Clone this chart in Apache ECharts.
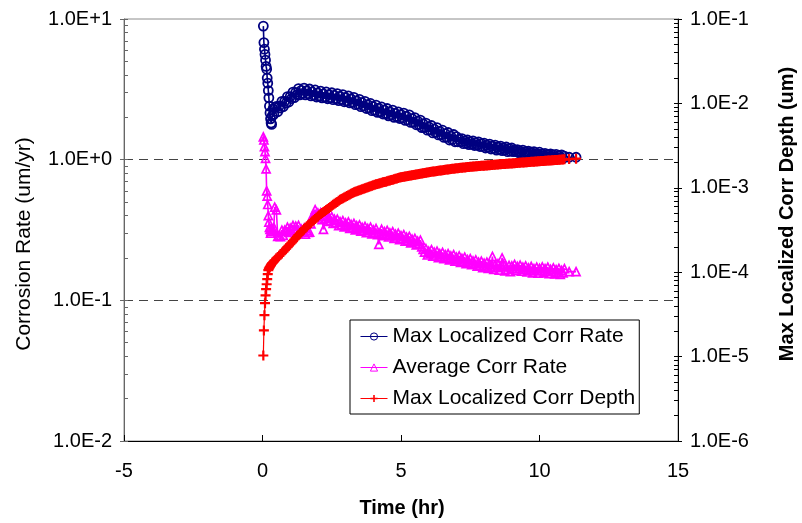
<!DOCTYPE html>
<html>
<head>
<meta charset="utf-8">
<script src="https://cdn.jsdelivr.net/npm/echarts@6/dist/echarts.min.js"></script>
<style>
  html, body { margin: 0; padding: 0; background: #fff; }
  #chart { width: 802px; height: 523px; }
</style>
</head>
<body>
<div id="chart"></div>
<script>
// Elapsed test time (hr)
const hours = [
  0.03, 0.05, 0.07, 0.09, 0.11, 0.13, 0.15, 0.17, 0.19, 0.21,
  0.23, 0.25, 0.27, 0.29, 0.31, 0.33, 0.35, 0.38, 0.41, 0.44,
  0.5, 0.55, 0.6, 0.65, 0.7, 0.75, 0.8, 0.85, 0.9, 0.95,
  1.0, 1.05, 1.1, 1.15, 1.2, 1.25, 1.3, 1.35, 1.4, 1.45, 1.5, 1.55, 1.6, 1.65, 1.7, 1.75, 1.8, 1.85, 1.9, 1.95,
  2.0, 2.05, 2.1, 2.15, 2.2, 2.25, 2.3, 2.35, 2.4, 2.45, 2.5, 2.55, 2.6, 2.65, 2.7, 2.75, 2.8, 2.85, 2.9, 2.95,
  3.0, 3.05, 3.1, 3.15, 3.2, 3.25, 3.3, 3.35, 3.4, 3.45, 3.5, 3.55, 3.6, 3.65, 3.7, 3.75, 3.8, 3.85, 3.9, 3.95,
  4.0, 4.05, 4.1, 4.15, 4.2, 4.25, 4.3, 4.35, 4.4, 4.45, 4.5, 4.55, 4.6, 4.65, 4.7, 4.75, 4.8, 4.85, 4.9, 4.95,
  5.0, 5.05, 5.1, 5.15, 5.2, 5.25, 5.3, 5.35, 5.4, 5.45, 5.5, 5.55, 5.6, 5.65, 5.7, 5.75, 5.8, 5.85, 5.9, 5.95,
  6.0, 6.05, 6.1, 6.15, 6.2, 6.25, 6.3, 6.35, 6.4, 6.45, 6.5, 6.55, 6.6, 6.65, 6.7, 6.75, 6.8, 6.85, 6.9, 6.95,
  7.0, 7.05, 7.1, 7.15, 7.2, 7.25, 7.3, 7.35, 7.4, 7.45, 7.5, 7.55, 7.6, 7.65, 7.7, 7.75, 7.8, 7.85, 7.9, 7.95,
  8.0, 8.05, 8.1, 8.15, 8.2, 8.25, 8.3, 8.35, 8.4, 8.45, 8.5, 8.55, 8.6, 8.65, 8.7, 8.75, 8.8, 8.85, 8.9, 8.95,
  9.0, 9.05, 9.1, 9.15, 9.2, 9.25, 9.3, 9.35, 9.4, 9.45, 9.5, 9.55, 9.6, 9.65, 9.7, 9.75, 9.8, 9.85, 9.9, 9.95,
  10.0, 10.05, 10.1, 10.15, 10.2, 10.25, 10.3, 10.35, 10.4, 10.45, 10.5, 10.55, 10.6, 10.65, 10.7, 10.75, 10.8, 10.85, 10.9,
  11.07, 11.32
];

// Max localized corrosion rate (um/yr), left axis
const maxLocalRate = [
  8.9, 6.8, 6.1, 5.6, 5.1, 4.6, 4.4, 3.8, 3.5, 3.1,
  2.75, 2.4, 2.15, 1.95, 1.82, 1.78, 2.05, 2.3, 2.1, 2.35,
  2.39, 2.19, 2.40, 2.33, 2.60, 2.38, 2.60, 2.52, 2.81, 2.57,
  2.81, 2.72, 3.02, 2.76, 3.01, 2.90, 3.20, 2.89, 3.11, 2.96, 3.23, 2.89, 3.09, 2.93, 3.18, 2.84, 3.03, 2.87, 3.13, 2.79,
  2.98, 2.82, 3.07, 2.75, 2.94, 2.78, 3.03, 2.71, 2.90, 2.75, 2.99, 2.67, 2.86, 2.71, 2.95, 2.63, 2.82, 2.67, 2.90, 2.58,
  2.76, 2.61, 2.84, 2.53, 2.70, 2.55, 2.77, 2.46, 2.62, 2.47, 2.68, 2.38, 2.54, 2.40, 2.60, 2.31, 2.46, 2.32, 2.51, 2.23,
  2.38, 2.24, 2.44, 2.17, 2.32, 2.18, 2.37, 2.11, 2.25, 2.12, 2.31, 2.05, 2.19, 2.07, 2.25, 2.00, 2.13, 2.02, 2.19, 1.96,
  2.09, 1.97, 2.14, 1.90, 2.03, 1.91, 2.08, 1.84, 1.96, 1.84, 1.99, 1.77, 1.88, 1.77, 1.91, 1.69, 1.80, 1.69, 1.82, 1.62,
  1.71, 1.62, 1.75, 1.55, 1.65, 1.56, 1.69, 1.50, 1.59, 1.50, 1.62, 1.44, 1.53, 1.44, 1.56, 1.38, 1.47, 1.39, 1.51, 1.34,
  1.46, 1.34, 1.40, 1.34, 1.41, 1.30, 1.36, 1.31, 1.38, 1.28, 1.34, 1.29, 1.36, 1.26, 1.32, 1.27, 1.34, 1.24, 1.30, 1.24,
  1.31, 1.21, 1.27, 1.22, 1.29, 1.19, 1.25, 1.20, 1.27, 1.17, 1.23, 1.18, 1.25, 1.16, 1.21, 1.17, 1.23, 1.14, 1.20, 1.15,
  1.21, 1.14, 1.17, 1.14, 1.18, 1.12, 1.15, 1.12, 1.17, 1.10, 1.14, 1.11, 1.15, 1.09, 1.13, 1.09, 1.14, 1.08, 1.11, 1.08,
  1.13, 1.06, 1.10, 1.07, 1.11, 1.05, 1.09, 1.05, 1.10, 1.04, 1.08, 1.04, 1.09, 1.03, 1.07, 1.03, 1.08, 1.02, 1.06,
  1.04, 1.04
];

// Average corrosion rate (um/yr), left axis
const avgRate = [
  1.45, 1.38, 1.24, 1.14, 1.02, 0.86, 0.6, 0.55, 0.48, 0.4,
  0.36, 0.33, 0.32, 0.3, 0.31, 0.32, 0.31, 0.32, 0.33, 0.46,
  0.44, 0.285, 0.286, 0.284, 0.315, 0.29, 0.316, 0.309, 0.331, 0.304,
  0.326, 0.319, 0.341, 0.314, 0.337, 0.321, 0.341, 0.304, 0.321, 0.304, 0.326, 0.295, 0.316, 0.304, 0.305, 0.35, 0.398, 0.402, 0.441, 0.394,
  0.418, 0.397, 0.42, 0.375, 0.32, 0.382, 0.404, 0.364, 0.388, 0.37, 0.394, 0.353, 0.377, 0.358, 0.378, 0.34, 0.362, 0.345, 0.368, 0.333,
  0.355, 0.339, 0.361, 0.325, 0.347, 0.331, 0.353, 0.317, 0.339, 0.323, 0.344, 0.31, 0.33, 0.316, 0.336, 0.303, 0.324, 0.311, 0.331, 0.297,
  0.317, 0.304, 0.324, 0.293, 0.25, 0.30, 0.32, 0.288, 0.308, 0.294, 0.314, 0.282, 0.302, 0.288, 0.308, 0.276, 0.296, 0.282, 0.30, 0.27,
  0.288, 0.274, 0.293, 0.263, 0.281, 0.268, 0.285, 0.256, 0.272, 0.26, 0.276, 0.248, 0.264, 0.252, 0.268, 0.24, 0.23, 0.22, 0.233, 0.21,
  0.224, 0.215, 0.229, 0.206, 0.22, 0.21, 0.224, 0.201, 0.215, 0.206, 0.219, 0.198, 0.211, 0.202, 0.215, 0.194, 0.207, 0.198, 0.211, 0.19,
  0.203, 0.194, 0.207, 0.186, 0.199, 0.19, 0.203, 0.182, 0.195, 0.186, 0.198, 0.179, 0.191, 0.182, 0.194, 0.175, 0.187, 0.178, 0.19, 0.171,
  0.184, 0.175, 0.187, 0.169, 0.181, 0.172, 0.205, 0.166, 0.179, 0.171, 0.182, 0.164, 0.175, 0.2, 0.18, 0.162, 0.173, 0.166, 0.177, 0.16,
  0.176, 0.169, 0.18, 0.163, 0.174, 0.167, 0.178, 0.161, 0.172, 0.165, 0.176, 0.159, 0.17, 0.163, 0.174, 0.157, 0.168, 0.162, 0.172, 0.156,
  0.169, 0.163, 0.173, 0.157, 0.168, 0.161, 0.172, 0.155, 0.166, 0.16, 0.17, 0.154, 0.165, 0.158, 0.169, 0.153, 0.163, 0.157, 0.168,
  0.16, 0.16
];

// Max localized corrosion depth (um), right axis
const maxLocalDepth = [
  1.03e-5, 2.04e-5, 3.1e-5, 4.3e-5, 5.3e-5, 6.3e-5, 7.2e-5, 8.3e-5, 9.5e-5, 1.06e-4,
  1.1e-4, 1.13e-4, 1.16e-4, 1.19e-4, 1.22e-4, 1.25e-4, 1.28e-4, 1.31e-4, 1.34e-4, 1.38e-4,
  1.45e-4, 1.50e-4, 1.56e-4, 1.62e-4, 1.68e-4, 1.75e-4, 1.83e-4, 1.90e-4, 1.98e-4, 2.06e-4,
  2.15e-4, 2.24e-4, 2.34e-4, 2.44e-4, 2.54e-4, 2.65e-4, 2.76e-4, 2.87e-4, 2.99e-4, 3.12e-4,
  3.25e-4, 3.36e-4, 3.48e-4, 3.60e-4, 3.73e-4, 3.86e-4, 3.99e-4, 4.13e-4, 4.28e-4, 4.43e-4,
  4.58e-4, 4.74e-4, 4.90e-4, 5.04e-4, 5.18e-4, 5.32e-4, 5.47e-4, 5.62e-4, 5.78e-4, 5.94e-4,
  6.11e-4, 6.28e-4, 6.45e-4, 6.63e-4, 6.81e-4, 7.00e-4, 7.20e-4, 7.35e-4, 7.50e-4, 7.65e-4,
  7.81e-4, 7.97e-4, 8.14e-4, 8.31e-4, 8.48e-4, 8.66e-4, 8.84e-4, 8.96e-4, 9.09e-4, 9.21e-4,
  9.34e-4, 9.47e-4, 9.60e-4, 9.73e-4, 9.86e-4, 1.000e-3, 1.014e-3, 1.028e-3, 1.042e-3, 1.056e-3,
  1.071e-3, 1.086e-3, 1.101e-3, 1.113e-3, 1.125e-3, 1.136e-3, 1.147e-3, 1.160e-3, 1.172e-3, 1.183e-3,
  1.195e-3, 1.208e-3, 1.222e-3, 1.235e-3, 1.249e-3, 1.263e-3, 1.277e-3, 1.291e-3, 1.305e-3, 1.320e-3,
  1.334e-3, 1.343e-3, 1.352e-3, 1.361e-3, 1.370e-3, 1.380e-3, 1.390e-3, 1.400e-3, 1.409e-3, 1.419e-3,
  1.429e-3, 1.438e-3, 1.448e-3, 1.458e-3, 1.468e-3, 1.478e-3, 1.488e-3, 1.498e-3, 1.509e-3, 1.519e-3,
  1.529e-3, 1.538e-3, 1.547e-3, 1.555e-3, 1.563e-3, 1.572e-3, 1.580e-3, 1.589e-3, 1.598e-3, 1.607e-3,
  1.616e-3, 1.625e-3, 1.633e-3, 1.642e-3, 1.651e-3, 1.660e-3, 1.670e-3, 1.678e-3, 1.686e-3, 1.694e-3,
  1.702e-3, 1.709e-3, 1.716e-3, 1.723e-3, 1.730e-3, 1.737e-3, 1.745e-3, 1.752e-3, 1.759e-3, 1.766e-3,
  1.774e-3, 1.779e-3, 1.785e-3, 1.791e-3, 1.797e-3, 1.802e-3, 1.808e-3, 1.813e-3, 1.819e-3, 1.825e-3,
  1.831e-3, 1.837e-3, 1.843e-3, 1.849e-3, 1.855e-3, 1.861e-3, 1.867e-3, 1.873e-3, 1.880e-3, 1.886e-3,
  1.892e-3, 1.898e-3, 1.905e-3, 1.910e-3, 1.915e-3, 1.920e-3, 1.926e-3, 1.931e-3, 1.936e-3, 1.941e-3,
  1.947e-3, 1.952e-3, 1.958e-3, 1.964e-3, 1.970e-3, 1.976e-3, 1.982e-3, 1.988e-3, 1.994e-3, 2.000e-3,
  2.006e-3, 2.012e-3, 2.018e-3, 2.024e-3, 2.030e-3, 2.036e-3, 2.042e-3, 2.048e-3, 2.054e-3, 2.061e-3,
  2.068e-3, 2.073e-3, 2.079e-3, 2.084e-3, 2.090e-3, 2.096e-3, 2.102e-3, 2.107e-3, 2.113e-3, 2.119e-3,
  2.125e-3, 2.131e-3, 2.137e-3, 2.142e-3, 2.148e-3, 2.154e-3, 2.160e-3, 2.166e-3, 2.172e-3,
  2.190e-3, 2.214e-3
];

const seriesNames = ['Max Localized Corr Rate', 'Average Corr Rate', 'Max Localized Corr Depth'];
const timeRange = [-5, 15];
const rateDecades = [0.01, 0.1, 1, 10];
const depthDecades = [1e-6, 1e-5, 1e-4, 1e-3, 1e-2, 1e-1];

const FONT = '"Liberation Sans", Arial, sans-serif';

// Decade ticks plus the 2..9 minor ticks between them
function logTickValues(decades) {
  const out = [];
  decades.forEach((d, i) => {
    out.push(d);
    if (i < decades.length - 1) {
      for (let k = 2; k <= 9; k++) out.push(Number((k * d).toPrecision(3)));
    }
  });
  return out;
}

function sciLabel(v) {
  const e = Math.round(Math.log10(v));
  return '1.0E' + (e >= 0 ? '+' : '') + e;
}

const pairs = (ys) => hours.map((h, i) => [h, ys[i]]);

// filled "+" marker
const plusSymbol = 'path://M3.9,0H6.1V3.9H10V6.1H6.1V10H3.9V6.1H0V3.9H3.9Z';

function mainLogAxis(min, max, position, decades, lineColor, withGrid) {
  return {
    type: 'log', logBase: 10, min: min, max: max, position: position,
    axisLine: { show: true, onZero: false, lineStyle: { color: lineColor, width: 1 } },
    axisTick: { show: true, inside: false, length: 4, customValues: decades, lineStyle: { color: lineColor } },
    axisLabel: { show: true, customValues: decades, formatter: sciLabel, fontSize: 20, fontFamily: FONT, color: '#000', margin: 12 },
    splitLine: {
      show: withGrid, showMinLine: false, showMaxLine: false,
      lineStyle: { type: [9, 6], color: '#444', width: 1 }
    },
    minorTick: { show: false }
  };
}

function minorLogAxis(min, max, position, decades, lineColor) {
  return {
    type: 'log', logBase: 10, min: min, max: max, position: position,
    axisLine: { show: false, onZero: false },
    axisTick: { show: true, inside: true, length: 4, customValues: logTickValues(decades), lineStyle: { color: lineColor } },
    axisLabel: { show: false },
    splitLine: { show: false }
  };
}

const chart = echarts.init(document.getElementById('chart'), null, { renderer: 'canvas' });

chart.setOption({
  animation: false,
  backgroundColor: '#fff',
  grid: { left: 124, right: 124, top: 19, bottom: 82, show: true, borderColor: '#8c8c8c', borderWidth: 1, backgroundColor: 'transparent' },
  xAxis: {
    type: 'value', min: timeRange[0], max: timeRange[1], interval: 5,
    axisLine: { onZero: false, lineStyle: { color: '#000', width: 1 } },
    axisTick: { inside: true, length: 6, lineStyle: { color: '#000' } },
    axisLabel: { fontSize: 20, fontFamily: FONT, color: '#000', margin: 20 },
    splitLine: { show: false }
  },
  yAxis: [
    mainLogAxis(0.01, 10, 'left', rateDecades, '#666', true),
    mainLogAxis(1e-6, 0.1, 'right', depthDecades, '#000', false),
    minorLogAxis(0.01, 10, 'left', rateDecades, '#666'),
    minorLogAxis(1e-6, 0.1, 'right', depthDecades, '#000')
  ],
  legend: {
    data: seriesNames,
    orient: 'vertical',
    left: 350, top: 320,
    padding: [6, 4, 5, 10],
    itemWidth: 27, itemHeight: 9, itemGap: 10,
    borderColor: '#000', borderWidth: 1, backgroundColor: '#fff',
    selectedMode: false,
    lineStyle: { width: 1 },
    itemStyle: { borderWidth: 1 },
    textStyle: { fontSize: 21, fontFamily: FONT, color: '#000', lineHeight: 21 }
  },
  graphic: [
    { type: 'text', x: 24, y: 244, rotation: Math.PI / 2,
      style: { text: 'Corrosion Rate (um/yr)', font: '21px ' + FONT, fill: '#000', align: 'center', verticalAlign: 'middle' } },
    { type: 'text', x: 787, y: 214, rotation: Math.PI / 2,
      style: { text: 'Max Localized Corr Depth (um)', font: 'bold 20px ' + FONT, fill: '#000', align: 'center', verticalAlign: 'middle' } },
    { type: 'text', x: 402, y: 508,
      style: { text: 'Time (hr)', font: 'bold 20px ' + FONT, fill: '#000', align: 'center', verticalAlign: 'middle' } }
  ],
  series: [
    {
      name: seriesNames[0], type: 'line', xAxisIndex: 0, yAxisIndex: 0,
      data: pairs(maxLocalRate),
      symbol: 'circle', symbolSize: 9, showAllSymbol: true,
      lineStyle: { color: '#000080', width: 1.6 },
      itemStyle: { color: 'rgba(255,255,255,0)', borderColor: '#000080', borderWidth: 1.8 },
      emphasis: { disabled: true }
    },
    {
      name: seriesNames[1], type: 'line', xAxisIndex: 0, yAxisIndex: 0,
      data: pairs(avgRate),
      symbol: 'triangle', symbolSize: 8, showAllSymbol: true,
      lineStyle: { color: '#ff00ff', width: 1.6 },
      itemStyle: { color: 'rgba(255,255,255,0)', borderColor: '#ff00ff', borderWidth: 1.7 },
      emphasis: { disabled: true }
    },
    {
      name: seriesNames[2], type: 'line', xAxisIndex: 0, yAxisIndex: 1,
      data: pairs(maxLocalDepth),
      symbol: plusSymbol, symbolSize: 10, showAllSymbol: true,
      lineStyle: { color: '#ff0000', width: 1.2 },
      itemStyle: { color: '#ff0000' },
      emphasis: { disabled: true }
    }
  ]
});
</script>
</body>
</html>
